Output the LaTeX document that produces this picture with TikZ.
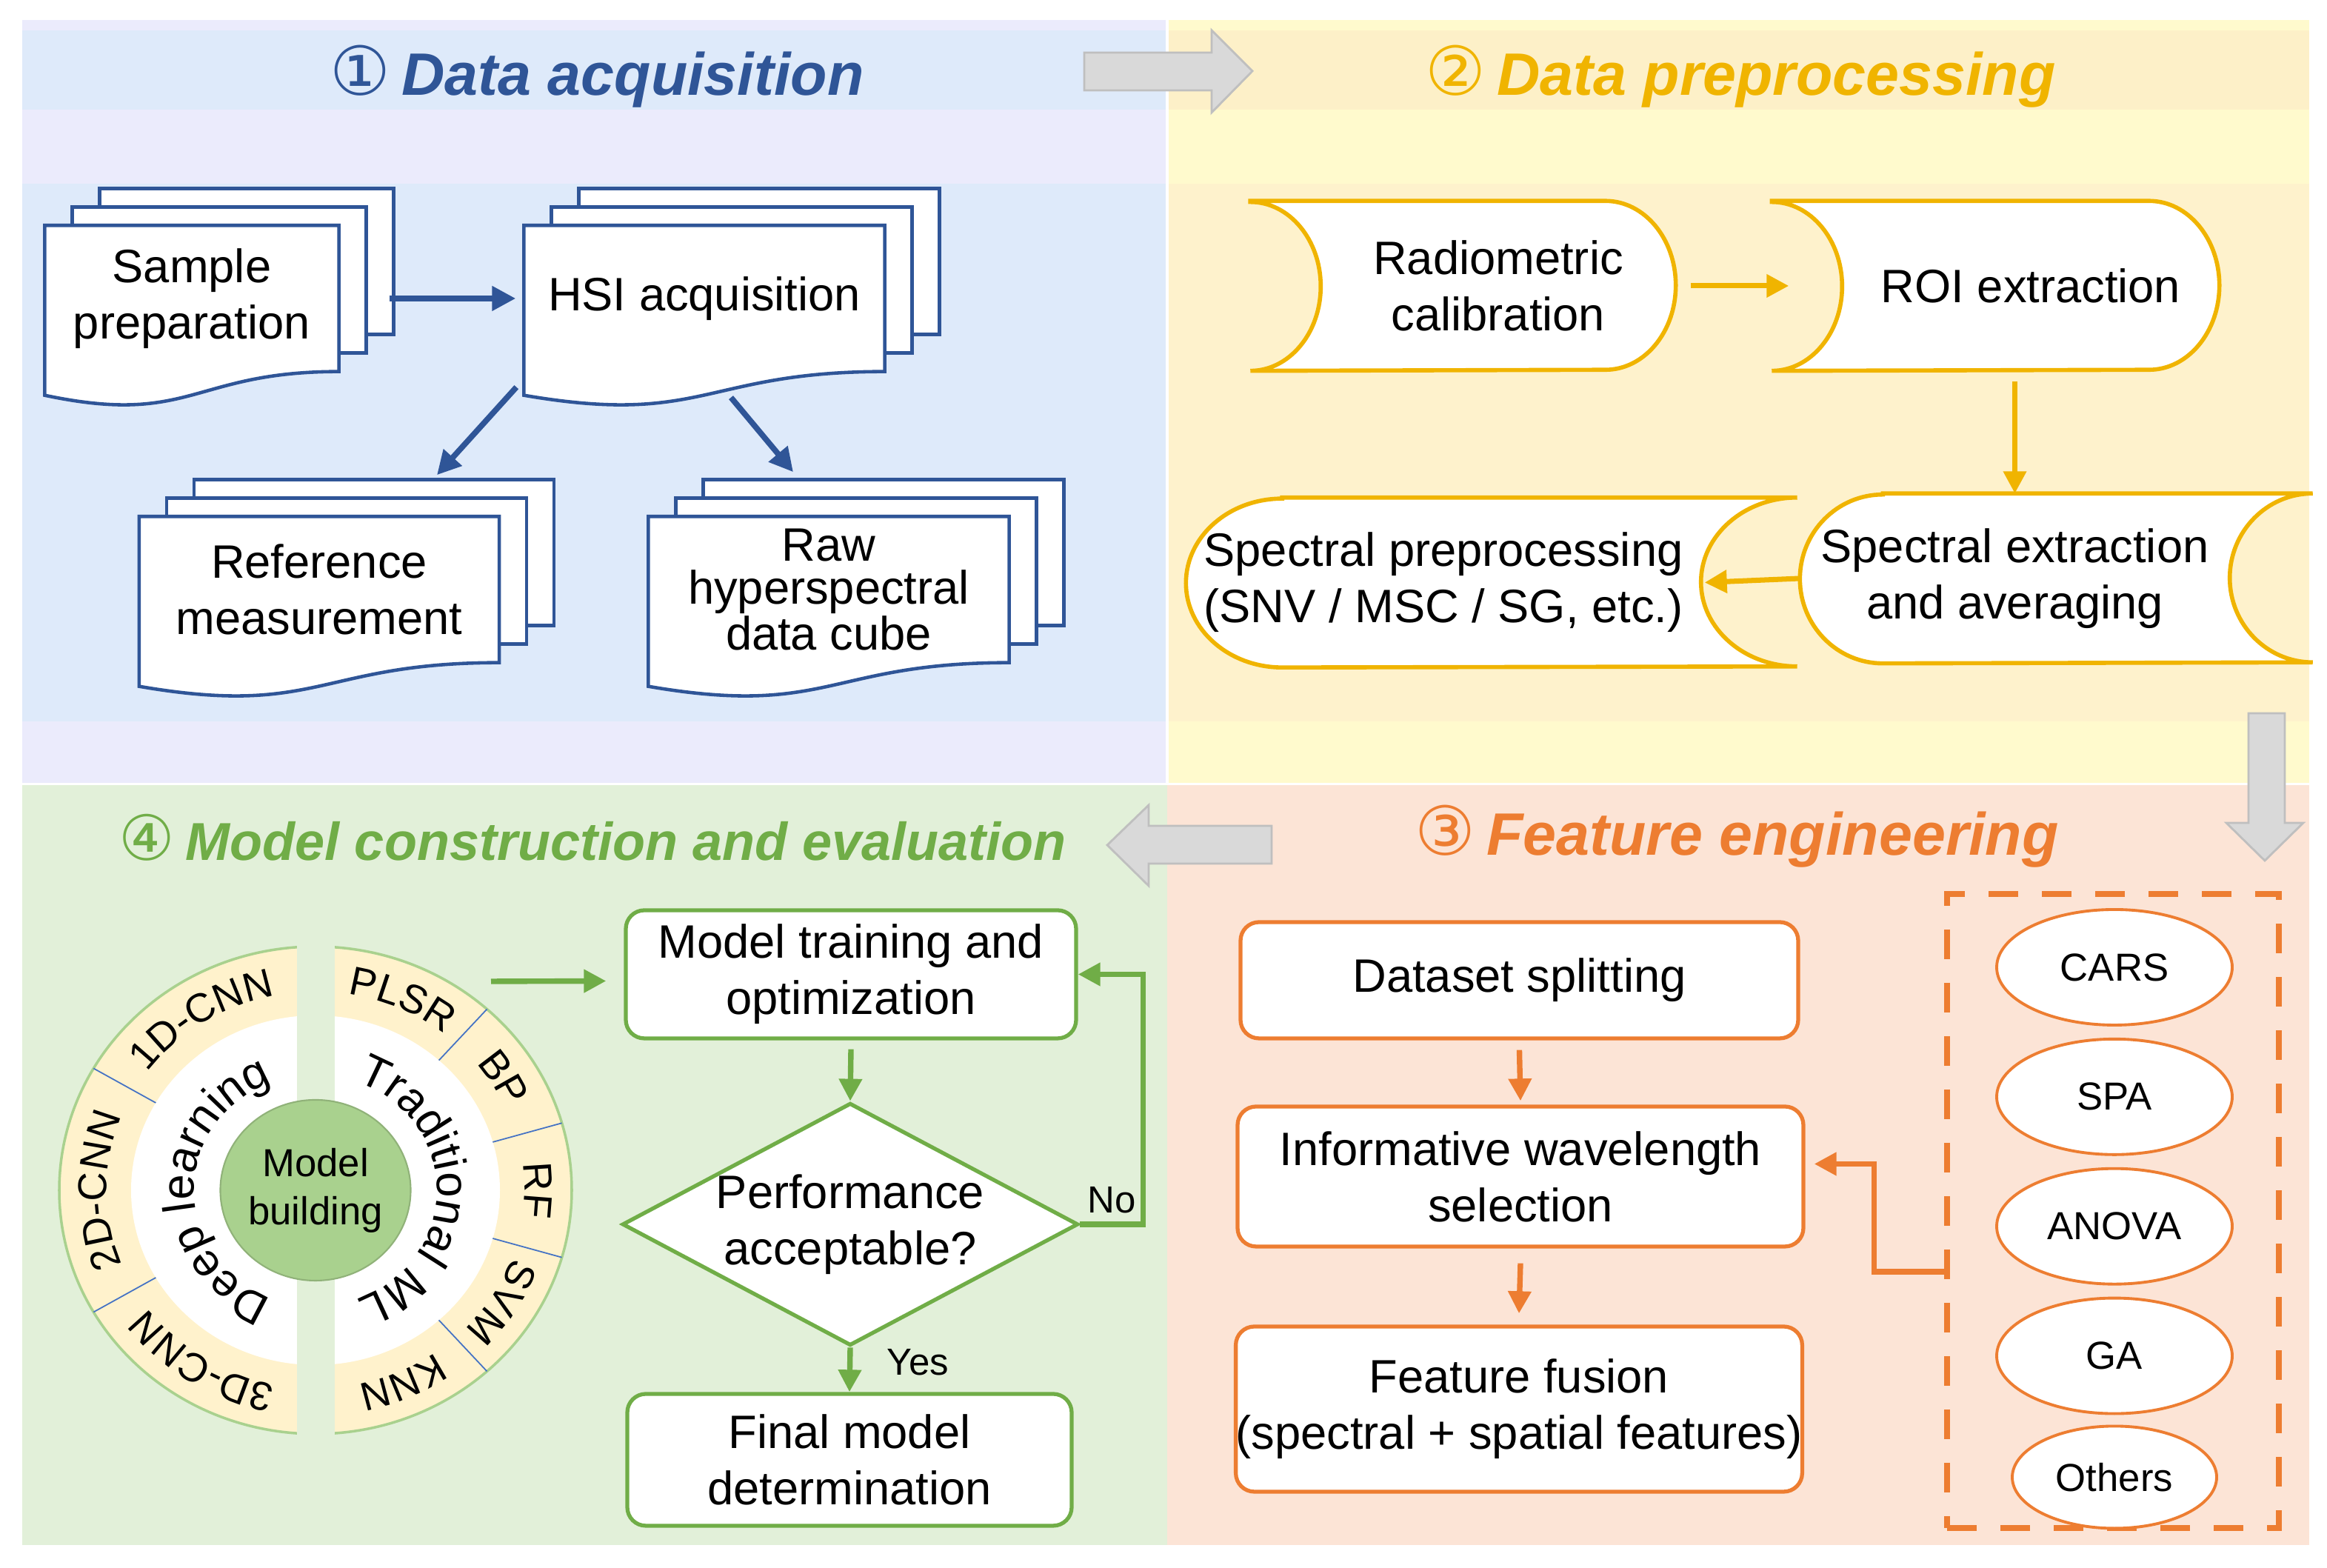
\documentclass[tikz,border=0pt]{standalone}
\usepackage{fontspec}
\setmainfont{Liberation Sans}
\newfontfamily\circfont{DejaVu Sans}
\usepackage{tikz}
\usetikzlibrary{shapes.geometric,arrows.meta,positioning,backgrounds,decorations.text}
\definecolor{qblue}{HTML}{2F5597}
\definecolor{qgold}{HTML}{F0B400}
\definecolor{qorange}{HTML}{ED7D31}
\definecolor{qgreen}{HTML}{70AD47}
\definecolor{bgblue}{HTML}{DEEAFA}
\definecolor{bglav}{HTML}{EBEBFC}
\definecolor{bgcreamhead}{HTML}{FDF0C8}
\definecolor{bgcream}{HTML}{FEF2CC}
\definecolor{bgpale}{HTML}{FFFACD}
\definecolor{bggreen}{HTML}{E2F0D9}
\definecolor{bgorange}{HTML}{FCE4D6}
\definecolor{arrgray}{HTML}{D9D9D9}
\definecolor{arredge}{HTML}{BFBFBF}
\definecolor{ringyellow}{HTML}{FFF2CC}
\definecolor{ringgreen}{HTML}{A9D18E}
\definecolor{sepblue}{HTML}{4472C4}

\newcommand{\ringlabelfont}{\fontsize{15.5}{18}\selectfont}
\newcommand{\ringinnerfont}{\fontsize{17.5}{21}\selectfont}

% stacked documents behind a node
\newcommand{\docstack}[1]{%
  \begin{scope}[on background layer]
    \draw[docline] ([shift={(0.74,0.5)}]#1.south west) rectangle ([shift={(0.74,0.5)}]#1.north east);
    \draw[docline] ([shift={(0.37,0.25)}]#1.south west) rectangle ([shift={(0.37,0.25)}]#1.north east);
    \draw[docline] (#1.north west) -- (#1.north east) -- (#1.south east)
      .. controls (#1.south) and ([yshift=-0.74cm]#1.south) .. ([yshift=-0.32cm]#1.south west) -- cycle;
  \end{scope}}
% stored data shape, pointing right / left
\newcommand{\storeR}[3]{%
  \begin{scope}[on background layer]
    \draw[store] ([xshift=-#2cm]#1.north west) -- ([xshift=-#2cm]#1.north east)
      arc[start angle=90, end angle=-90, x radius=#2, y radius=#3]
      -- ([xshift=-#2cm]#1.south west)
      arc[start angle=-90, end angle=90, x radius=#2, y radius=#3] -- cycle;
  \end{scope}}
\newcommand{\storeL}[3]{%
  \begin{scope}[on background layer]
    \draw[store] ([xshift=#2cm]#1.north west) -- ([xshift=#2cm]#1.north east)
      arc[start angle=90, end angle=270, x radius=#2, y radius=#3]
      -- ([xshift=#2cm]#1.south west)
      arc[start angle=270, end angle=90, x radius=#2, y radius=#3] -- cycle;
  \end{scope}}

\begin{document}
\begin{tikzpicture}[
  body/.style={font=\fontsize{18}{21.6}\selectfont, align=center, inner sep=0pt},
  doc/.style={body, minimum height=1.96cm},
  docline/.style={draw=qblue, line width=1.3pt, fill=white},
  store/.style={draw=qgold, line width=1.6pt, fill=white},
  stext/.style={body, minimum height=2.28cm},
  fbox/.style={body, rectangle, rounded corners=0.25cm, draw=qorange, line width=1.5pt, fill=white},
  mbox/.style={body, rectangle, rounded corners=0.25cm, draw=qgreen, line width=1.5pt, fill=white},
  decision/.style={body, diamond, aspect=1.88, draw=qgreen, line width=1.5pt, fill=white},
  meth/.style={ellipse, draw=qorange, line width=1.1pt, fill=white, minimum width=3.18cm,
               minimum height=1.56cm, inner sep=0pt, font=\fontsize{15}{18}\selectfont},
  selbox/.style={draw=qorange, line width=2.4pt, dash pattern=on 0.4cm off 0.32cm},
  hdr/.style={font=\fontsize{23}{27}\selectfont\bfseries\itshape, anchor=base},
  lbl/.style={font=\fontsize{14.5}{17}\selectfont},
  blockarr/.style={fill=arrgray, draw=arredge, line width=0.8pt},
  sepline/.style={draw=sepblue, line width=0.5pt},
  barr/.style={-{Triangle[length=3.2mm,width=3.2mm]}, line width=2.2pt, draw=qblue},
  garr/.style={-{Triangle[length=3mm,width=3mm]}, line width=2pt, draw=qgold},
  oarr/.style={-{Triangle[length=3mm,width=3mm]}, line width=2.1pt, draw=qorange},
  grarr/.style={-{Triangle[length=3mm,width=3mm]}, line width=2.1pt, draw=qgreen}
]
\useasboundingbox (0,0) rectangle (31.42,21.17);

% Quadrant backgrounds
\begin{scope}[on background layer]
  \fill[bglav] (0.30,10.60) rectangle (15.74,20.90);
  \fill[bgblue] (0.30,19.69) rectangle (15.74,20.76);
  \fill[bgblue] (0.30,11.43) rectangle (15.74,18.69);
  \fill[bgpale] (15.78,10.60) rectangle (31.18,20.90);
  \fill[bgcreamhead] (15.78,19.69) rectangle (31.18,20.76);
  \fill[bgcream] (15.78,11.43) rectangle (31.18,18.69);
  \fill[bggreen] (0.30,0.31) rectangle (15.76,10.57);
  \fill[bgorange] (15.76,0.31) rectangle (31.18,10.57);
\end{scope}

% Headers
\node[hdr, text=qblue] (h1) at (8.06,19.88) {{\circfont\mdseries\upshape\fontsize{26}{30}\selectfont ①}\hspace{0.15cm}Data acquisition};
\node[hdr, text=qgold] (h2) at (23.50,19.88) {{\circfont\mdseries\upshape\fontsize{26}{30}\selectfont ②}\hspace{0.15cm}Data preprocessing};
\node[hdr, text=qorange] (h3) at (23.45,9.62) {{\circfont\mdseries\upshape\fontsize{26}{30}\selectfont ③}\hspace{0.15cm}Feature engineering};
\node[hdr, text=qgreen, font=\fontsize{20.5}{25}\selectfont\bfseries\itshape] (h4) at (8.00,9.55) {{\circfont\mdseries\upshape\fontsize{24}{28}\selectfont ④}\hspace{0.15cm}Model construction and evaluation};

% Block arrows between stages
\draw[blockarr] (14.64,20.46) -- (16.36,20.46) -- (16.36,20.76) -- (16.91,20.21)
  -- (16.36,19.65) -- (16.36,19.95) -- (14.64,19.95) -- cycle;
\draw[blockarr] (30.36,11.54) -- (30.85,11.54) -- (30.85,10.06) -- (31.10,10.06)
  -- (30.58,9.55) -- (30.06,10.06) -- (30.36,10.06) -- cycle;
\draw[blockarr] (17.17,10.02) -- (15.51,10.02) -- (15.51,10.30) -- (14.95,9.76)
  -- (15.51,9.21) -- (15.51,9.51) -- (17.17,9.51) -- cycle;

% 1 Data acquisition
\node[doc, minimum width=3.96cm] (sample) at (2.59,17.14) {Sample\\preparation};
\docstack{sample}
\node[doc, minimum width=4.86cm] (hsi) at (9.51,17.14) {HSI acquisition};
\docstack{hsi}
\node[doc, minimum width=4.85cm] (ref) at (4.31,13.21) {Reference\\measurement};
\docstack{ref}
\node[doc, minimum width=4.86cm, font=\fontsize{18}{16.5}\selectfont] (raw) at (11.19,13.21) {Raw\\hyperspectral\\data cube};
\docstack{raw}

\draw[barr] ([xshift=0.68cm]sample.east) -- ([xshift=-0.11cm]hsi.west);
\draw[barr] ([shift={(-0.10,-0.21)}]hsi.south west) -- ([shift={(1.59,0.56)}]ref.north);
\draw[barr] ([shift={(0.36,-0.35)}]hsi.south) -- ([shift={(-0.48,0.60)}]raw.north);

% 2 Data preprocessing
\node[stext, minimum width=4.78cm] (rad) at (20.23,17.31) {Radiometric\\calibration};
\storeR{rad}{0.95}{1.14}
\node[stext, minimum width=5.08cm] (roi) at (27.42,17.31) {ROI extraction};
\storeR{roi}{0.95}{1.14}
\node[stext, minimum width=5.79cm] (spext) at (27.205,13.36) {Spectral extraction\\and averaging};
\storeL{spext}{1.12}{1.14}
\node[stext, minimum width=6.94cm] (sprep) at (19.49,13.305) {Spectral preprocessing\\(SNV / MSC / SG, etc.)};
\storeL{sprep}{1.30}{1.14}

\draw[garr] ([xshift=0.2cm]rad.east) -- ([xshift=-0.72cm]roi.west);
\draw[garr] ([yshift=-0.14cm]roi.south -| spext.north) -- (spext.north);
\draw[garr] (spext.west) -- ([xshift=0.05cm]sprep.east);

% 3 Feature engineering
\node[fbox, minimum width=7.53cm, minimum height=1.57cm] (split) at (20.515,7.935) {Dataset splitting};
\node[fbox, minimum width=7.64cm, minimum height=1.89cm] (wave) at (20.53,5.285) {Informative wavelength\\selection};
\node[fbox, minimum width=7.62cm, minimum height=2.23cm] (fuse) at (20.51,2.145) {Feature fusion\\(spectral + spatial features)};

\node[selbox, minimum width=4.48cm, minimum height=8.56cm] (sel) at (28.53,4.82) {};
\node[meth] (cars) at (28.55,8.11) {CARS};
\node[meth, below=0.15cm of cars] (spa) {SPA};
\node[meth, below=0.15cm of spa] (anova) {ANOVA};
\node[meth, below=0.15cm of anova] (ga) {GA};
\node[meth, below=0.13cm of ga, minimum width=2.76cm, minimum height=1.38cm] (others) {Others};

\draw[oarr] ([yshift=-0.13cm]split.south) -- ([yshift=0.05cm]wave.north);
\draw[oarr] ([yshift=-0.2cm]wave.south) -- ([yshift=0.15cm]fuse.north);
\draw[oarr] ([yshift=-0.82cm]sel.west) -- ++(-0.94,0) |- ([xshift=0.12cm,yshift=0.17cm]wave.east);

% 4 Model construction and evaluation
\node[mbox, minimum width=6.08cm, minimum height=1.73cm] (train) at (11.49,8.015) {Model training and\\optimization};
\node[decision, minimum width=6.06cm, minimum height=3.22cm] (perf) at (11.48,4.64) {Performance\\acceptable?};
\node[mbox, minimum width=6.0cm, minimum height=1.78cm] (final) at (11.47,1.46) {Final model\\determination};

\draw[grarr] ([yshift=-0.12cm]train.south) -- (perf.north);
\draw[grarr] (perf.south) -- node[lbl, right, xshift=0.35cm, yshift=0.1cm] {Yes} (final.north);
\draw[grarr] (perf.east) -- node[lbl, above] {No} ++(0.85,0) |- (train.east);

% Model building ring
\begin{scope}[shift={(4.26,5.10)}]
  \draw[fill=ringyellow, draw=ringgreen, line width=1pt] (0,0) ellipse[x radius=3.46, y radius=3.29];
  \fill[white] (0,0) ellipse[x radius=2.49, y radius=2.36];
  \foreach \a in {150,210,48,16,-16,-48}
    \draw[sepline] (\a:2.49 and 2.36) -- (\a:3.46 and 3.29);
  \fill[bggreen] (-0.255,-3.45) rectangle (0.255,3.45);
  % outer ring labels
  \path[decorate, decoration={text along path, text={|\ringlabelfont|1D-CNN}, text align=center}]
    (150:2.82 and 2.68) arc[start angle=150, end angle=95, x radius=2.82, y radius=2.68];
  \path[decorate, decoration={text along path, text={|\ringlabelfont|2D-CNN}, text align=center}]
    (210:2.82 and 2.68) arc[start angle=210, end angle=150, x radius=2.82, y radius=2.68];
  \path[decorate, decoration={text along path, text={|\ringlabelfont|3D-CNN}, text align=center}]
    (265:2.82 and 2.68) arc[start angle=265, end angle=210, x radius=2.82, y radius=2.68];
  \path[decorate, decoration={text along path, text={|\ringlabelfont|PLSR}, text align=center}]
    (85:2.82 and 2.68) arc[start angle=85, end angle=48, x radius=2.82, y radius=2.68];
  \path[decorate, decoration={text along path, text={|\ringlabelfont|BP}, text align=center}]
    (48:2.82 and 2.68) arc[start angle=48, end angle=16, x radius=2.82, y radius=2.68];
  \path[decorate, decoration={text along path, text={|\ringlabelfont|RF}, text align=center}]
    (16:2.82 and 2.68) arc[start angle=16, end angle=-16, x radius=2.82, y radius=2.68];
  \path[decorate, decoration={text along path, text={|\ringlabelfont|SVM}, text align=center}]
    (-16:2.82 and 2.68) arc[start angle=-16, end angle=-48, x radius=2.82, y radius=2.68];
  \path[decorate, decoration={text along path, text={|\ringlabelfont|KNN}, text align=center}]
    (-48:2.82 and 2.68) arc[start angle=-48, end angle=-85, x radius=2.82, y radius=2.68];
  % inner ring labels
  \path[decorate, decoration={text along path, text={|\ringinnerfont|Deep learning}, text align=center}]
    (268:1.64 and 1.56) arc[start angle=268, end angle=92, x radius=1.64, y radius=1.56];
  \path[decorate, decoration={text along path, text={|\ringinnerfont|Traditional ML}, text align=center}]
    (88:1.64 and 1.56) arc[start angle=88, end angle=-88, x radius=1.64, y radius=1.56];
\end{scope}
\node[ellipse, fill=ringgreen, draw=ringgreen!85!black, line width=0.6pt, minimum width=2.52cm,
      minimum height=2.44cm, inner sep=0pt, align=center, font=\fontsize{15}{18.5}\selectfont] (mb) at (4.26,5.10) {Model\\building};

\draw[grarr] ([shift={(2.37,2.82)}]mb.center) -- ([shift={(-0.24,-0.09)}]train.west);
\end{tikzpicture}
\end{document}
